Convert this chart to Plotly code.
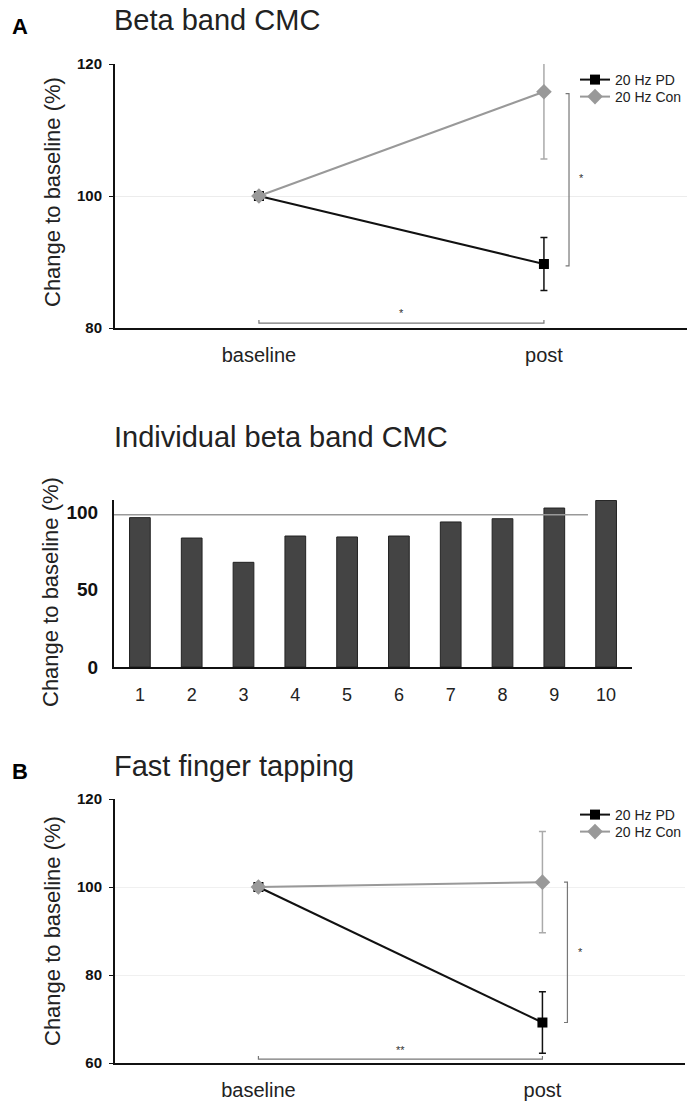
import plotly.graph_objects as go

# ---------------- data ----------------
conditions = ["baseline", "post"]
series_names = ["20 Hz PD", "20 Hz Con"]

beta_pd_mean = [100, 89.7]
beta_pd_err = [0, 4.0]
beta_con_mean = [100, 115.8]
beta_con_err = [0, 10.2]

subjects = ["1", "2", "3", "4", "5", "6", "7", "8", "9", "10"]
indiv_beta = [96.6, 83.4, 67.7, 84.7, 84.1, 84.7, 93.8, 95.9, 102.8, 107.7]
indiv_ref_level = 98.5

tap_pd_mean = [100, 69.2]
tap_pd_err = [0, 7.0]
tap_con_mean = [100, 101.1]
tap_con_err = [0, 11.5]

beta_ticks = [80, 100, 120]
indiv_ticks = [0, 50, 100]
tap_ticks = [60, 80, 100, 120]

# ---------------- style ----------------
W, H = 700, 1110
FONT = "Liberation Sans, Arial, sans-serif"
PD_COLOR = "#111111"
CON_COLOR = "#999999"
CON_ERR = "#aaaaaa"
BRACKET = "#777777"


def px_x(p):
    return p / W


def px_y(p):
    return 1 - p / H


fig = go.Figure()
xpos = list(range(len(conditions)))

# Panel A
fig.add_trace(go.Scatter(
    x=xpos, y=beta_pd_mean, name=series_names[0], mode="lines+markers",
    line=dict(color=PD_COLOR, width=2),
    marker=dict(symbol="square", size=10, color="#000000"),
    error_y=dict(type="data", array=beta_pd_err, color=PD_COLOR, thickness=1.5, width=3.5),
    xaxis="x", yaxis="y", legend="legend"))
fig.add_trace(go.Scatter(
    x=xpos, y=beta_con_mean, name=series_names[1], mode="lines+markers",
    line=dict(color=CON_COLOR, width=2),
    marker=dict(symbol="diamond", size=12, color=CON_COLOR),
    error_y=dict(type="data", array=beta_con_err, color=CON_ERR, thickness=1.5, width=3.5),
    xaxis="x", yaxis="y", legend="legend3"))

# Middle panel bars
fig.add_trace(go.Bar(
    x=list(range(1, len(subjects) + 1)), y=indiv_beta, width=0.4,
    marker=dict(color="#444444", line=dict(color="#222222", width=1)),
    showlegend=False, xaxis="x2", yaxis="y2"))

# Panel B
fig.add_trace(go.Scatter(
    x=xpos, y=tap_pd_mean, name=series_names[0], mode="lines+markers",
    line=dict(color=PD_COLOR, width=2),
    marker=dict(symbol="square", size=10, color="#000000"),
    error_y=dict(type="data", array=tap_pd_err, color=PD_COLOR, thickness=1.5, width=3.5),
    xaxis="x3", yaxis="y3", legend="legend2"))
fig.add_trace(go.Scatter(
    x=xpos, y=tap_con_mean, name=series_names[1], mode="lines+markers",
    line=dict(color=CON_COLOR, width=2),
    marker=dict(symbol="diamond", size=12, color=CON_COLOR),
    error_y=dict(type="data", array=tap_con_err, color=CON_ERR, thickness=1.5, width=3.5),
    xaxis="x3", yaxis="y3", legend="legend4"))

line_axis = dict(showline=True, linecolor="#111111", linewidth=2, zeroline=False, automargin=False)

xcat = dict(range=[-0.505, 1.502], tickvals=xpos, ticktext=conditions, showgrid=False,
            ticks="", ticklabelstandoff=8,
            tickfont=dict(family=FONT, size=20, color="#222222"), **line_axis)


def legend_at(top_px):
    return dict(x=px_x(575), y=px_y(top_px), xanchor="left", yanchor="top",
                font=dict(family=FONT, size=14, color="#222222"),
                bgcolor="rgba(0,0,0,0)", tracegroupgap=0, itemwidth=30)


fig.update_layout(
    template="none",
    width=W, height=H, margin=dict(l=0, r=0, t=0, b=0, pad=0, autoexpand=False),
    paper_bgcolor="white", plot_bgcolor="white",
    font=dict(family=FONT, color="#222222"),
    hovermode=False,
    xaxis=dict(domain=[px_x(115), px_x(687)], anchor="y", **xcat),
    yaxis=dict(domain=[px_y(328), px_y(64)], anchor="x", range=[80, 120], tickvals=beta_ticks,
               showgrid=True, gridcolor="#ececec", gridwidth=1,
               ticks="outside", ticklen=4, tickcolor="#111111", ticklabelstandoff=4,
               tickfont=dict(family=FONT, size=15, color="#111111", weight="bold"), **line_axis),
    xaxis2=dict(domain=[px_x(114), px_x(632)], anchor="y2", range=[0.5, 10.5],
                tickvals=list(range(1, len(subjects) + 1)), ticktext=subjects, showgrid=False,
                ticks="", ticklabelstandoff=10,
                tickfont=dict(family=FONT, size=18, color="#222222"), **line_axis),
    yaxis2=dict(domain=[px_y(667), px_y(500)], anchor="x2", range=[0, 108], tickvals=indiv_ticks,
                showgrid=False, ticks="", ticklabelstandoff=10,
                tickfont=dict(family=FONT, size=19, color="#111111", weight="bold"), **line_axis),
    xaxis3=dict(domain=[px_x(115), px_x(685)], anchor="y3", **xcat),
    yaxis3=dict(domain=[px_y(1063), px_y(799)], anchor="x3", range=[60, 120], tickvals=tap_ticks,
                showgrid=True, gridcolor="#f0f0f0", gridwidth=1,
                ticks="outside", ticklen=4, tickcolor="#111111", ticklabelstandoff=4,
                tickfont=dict(family=FONT, size=15, color="#111111", weight="bold"), **line_axis),
    legend=legend_at(64),
    legend3=legend_at(81),
    legend2=legend_at(799),
    legend4=legend_at(816),
    showlegend=True,
)

# ---------------- texts ----------------
ann = []
def text(x, y, s, size, **kw):
    d = dict(x=x, y=y, xref="paper", yref="paper", text=s, showarrow=False,
             font=dict(family=FONT, size=size, color=kw.pop("color", "#222222")))
    d.update(kw)
    ann.append(d)

text(px_x(112), px_y(20), "Beta band CMC", 29, xanchor="left", yanchor="middle")
text(px_x(112), px_y(437), "Individual beta band CMC", 29, xanchor="left", yanchor="middle")
text(px_x(112), px_y(766), "Fast finger tapping", 29, xanchor="left", yanchor="middle")
text(px_x(10), px_y(27), "<b>A</b>", 22, xanchor="left", yanchor="middle", color="#000000")
text(px_x(10), px_y(771), "<b>B</b>", 22, xanchor="left", yanchor="middle", color="#000000")
text(px_x(52), px_y(192), "Change to baseline (%)", 22, textangle=-90, xanchor="center", yanchor="middle")
text(px_x(50), px_y(592), "Change to baseline (%)", 22, textangle=-90, xanchor="center", yanchor="middle")
text(px_x(52), px_y(931), "Change to baseline (%)", 22, textangle=-90, xanchor="center", yanchor="middle")

# significance stars (data coords)
ann.append(dict(x=1.133, y=(beta_pd_mean[1] + beta_con_mean[1]) / 2, xref="x", yref="y", text="*",
                showarrow=False, font=dict(family=FONT, size=11, color="#333333")))
ann.append(dict(x=0.5, y=82.2, xref="x", yref="y", text="*",
                showarrow=False, font=dict(family=FONT, size=11, color="#333333")))
ann.append(dict(x=1.133, y=(tap_pd_mean[1] + tap_con_mean[1]) / 2, xref="x3", yref="y3", text="*",
                showarrow=False, font=dict(family=FONT, size=11, color="#333333")))
ann.append(dict(x=0.5, y=63.0, xref="x3", yref="y3", text="**",
                showarrow=False, font=dict(family=FONT, size=11, color="#333333")))
fig.update_layout(annotations=ann)

# ---------------- brackets / reference line ----------------
shapes = []
def bracket_v(xr, yr, xb, y_top, y_bot, dx):
    shapes.append(dict(type="path", xref=xr, yref=yr,
                       path=f"M {xb-dx},{y_top} L {xb},{y_top} L {xb},{y_bot} L {xb-dx},{y_bot}",
                       line=dict(color=BRACKET, width=1.2)))

def bracket_h(xr, yr, y, dy):
    shapes.append(dict(type="path", xref=xr, yref=yr,
                       path=f"M {xpos[0]},{y+dy} L {xpos[0]},{y} L {xpos[1]},{y} L {xpos[1]},{y+dy}",
                       line=dict(color=BRACKET, width=1.2)))

bracket_v("x", "y", 1.088, beta_con_mean[1] - 0.3, beta_pd_mean[1] - 0.3, 0.012)
bracket_h("x", "y", 80.75, 0.45)
bracket_v("x3", "y3", 1.088, tap_con_mean[1], tap_pd_mean[1], 0.012)
bracket_h("x3", "y3", 60.9, 0.7)

shapes.append(dict(type="line", xref="x2", yref="y2", x0=0.5, x1=9.65,
                   y0=indiv_ref_level, y1=indiv_ref_level,
                   line=dict(color="#999999", width=1.5)))
fig.update_layout(shapes=shapes)

# remove the browser's default page margin so figure pixels map 1:1 to the window
fig.write_html("out.html", config={"displayModeBar": False, "staticPlot": True},
               post_script="document.body.style.margin='0';")
